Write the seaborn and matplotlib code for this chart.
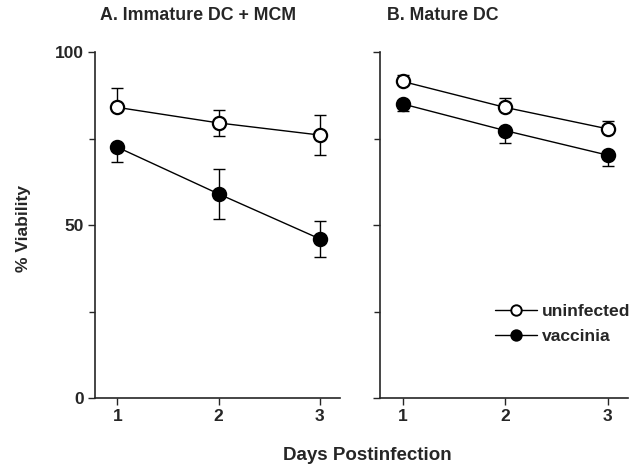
import matplotlib
matplotlib.use("Agg")
import matplotlib.pyplot as plt
from matplotlib.lines import Line2D
import seaborn as sns
import pandas as pd
import numpy as np

sns.set_style("ticks")
plt.rcParams['font.family'] = ['Liberation Sans', 'DejaVu Sans']
plt.rcParams['font.weight'] = 'bold'

days = [1, 2, 3]
panels = ["A. Immature DC + MCM", "B. Mature DC"]
series = ["uninfected", "vaccinia"]

# Panel A values
a_uninf = [84.0, 79.5, 76.0]
a_uninf_lo = [0.0, 3.8, 5.8]
a_uninf_hi = [5.5, 3.6, 5.8]
a_vacc = [72.5, 59.0, 46.0]
a_vacc_lo = [4.3, 7.4, 5.2]
a_vacc_hi = [0.0, 7.2, 5.2]

# Panel B values
b_uninf = [91.5, 84.0, 77.8]
b_uninf_lo = [0.0, 0.0, 0.0]
b_uninf_hi = [1.8, 2.6, 2.4]
b_vacc = [85.0, 77.3, 70.2]
b_vacc_lo = [2.0, 3.6, 3.2]
b_vacc_hi = [0.0, 0.0, 0.0]

yticks = [0, 50, 100]
minor_yticks = [25, 75]

fig = plt.figure(figsize=(6.44, 4.66), dpi=100)
axA = fig.add_axes([95/644, 1-398/466, 245/644, 346/466])
axB = fig.add_axes([380/644, 1-398/466, 248/644, 346/466])

panel_data = [
    (axA, [(a_uninf, a_uninf_lo, a_uninf_hi), (a_vacc, a_vacc_lo, a_vacc_hi)]),
    (axB, [(b_uninf, b_uninf_lo, b_uninf_hi), (b_vacc, b_vacc_lo, b_vacc_hi)]),
]
faces = {"uninfected": "white", "vaccinia": "black"}

for (ax, sdata), title in zip(panel_data, panels):
    for name, (vals, lo, hi) in zip(series, sdata):
        df = pd.DataFrame({"day": days, "viability": vals})
        ax.errorbar(days, vals, yerr=[lo, hi], fmt='none', ecolor='black',
                    elinewidth=1.0, capsize=4, capthick=1.0, zorder=2)
        sns.lineplot(data=df, x="day", y="viability", ax=ax, color="black",
                     linewidth=1.0, marker="o", markersize=9.5,
                     markerfacecolor=faces[name], markeredgecolor="black",
                     markeredgewidth=1.6, zorder=3, legend=False)
    ax.set_xlim(0.78, 3.2)
    ax.set_ylim(0, 100)
    ax.set_xticks(days)
    ax.set_xticklabels([str(d) for d in days], fontsize=12.5, fontweight='bold')
    ax.set_yticks(yticks)
    ax.set_yticks(minor_yticks, minor=True)
    ax.tick_params(axis='both', which='major', direction='out', length=5, width=1, pad=3)
    ax.tick_params(axis='y', which='minor', direction='out', length=4, width=1)
    ax.set_xlabel("")
    ax.set_ylabel("")
    for s in ["top", "right"]:
        ax.spines[s].set_visible(False)
    for s in ["left", "bottom"]:
        ax.spines[s].set_linewidth(1.2)
    ax.text(0.02 if ax is axA else 0.03, 1.08, title, transform=ax.transAxes,
            fontsize=12.8, fontweight='bold', ha='left', va='bottom')

axA.set_yticklabels([str(t) for t in yticks], fontsize=12.5, fontweight='bold')
axB.set_yticklabels([])

fig.text(24/644, 1-228/466, "% Viability", rotation=90, fontsize=12.5,
         fontweight='bold', ha='center', va='center')
fig.text(367/644, 1-455/466, "Days Postinfection", fontsize=13.5,
         fontweight='bold', ha='center', va='center')

handles = [Line2D([], [], color='black', lw=1.0, marker='o', markersize=7.5,
                  markerfacecolor=faces[n], markeredgecolor='black', markeredgewidth=1.4)
           for n in series]
leg = axB.legend(handles, series, loc='center left', bbox_to_anchor=(0.40, 0.215),
                 frameon=False, handlelength=2.4, handletextpad=0.3, labelspacing=0.55,
                 prop={'size': 12.6, 'weight': 'bold'})

fig.savefig("out.png", dpi=100)
